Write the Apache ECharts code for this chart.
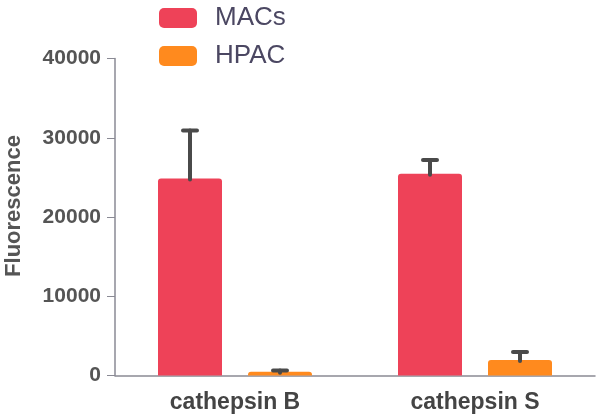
<!DOCTYPE html>
<html>
<head>
<meta charset="utf-8">
<script src="https://cdn.jsdelivr.net/npm/echarts@6/dist/echarts.min.js"></script>
<style>html,body{margin:0;padding:0;background:#fff;}#c{width:602px;height:420px;}</style>
</head>
<body>
<div id="c"></div>
<script>
var categories = ['cathepsin B', 'cathepsin S'];
var seriesNames = ['MACs', 'HPAC'];
var macsMean = [24850, 25450];
var macsErr = [6050, 1750];
var hpacMean = [480, 1950];
var hpacErr = [150, 1000];
var yTicks = [0, 10000, 20000, 30000, 40000];

var colors = ['#ee4258', '#ff8a1e'];
var barWidth = 64, barGapPx = 26;
var offset = (barWidth + barGapPx) / 2;

function errData(mean, err) {
  return mean.map(function (m, i) { return [i, m, err[i]]; });
}
function errRender(dx) {
  return function (params, api) {
    var base = api.coord([api.value(0), api.value(1)]);
    var top = api.coord([api.value(0), api.value(1) + api.value(2)]);
    var x = base[0] + dx;
    var style = { stroke: '#4a4a4a', lineWidth: 4, lineCap: 'round' };
    return {
      type: 'group',
      children: [
        { type: 'line', shape: { x1: x, y1: base[1] + 1, x2: x, y2: top[1] }, style: style },
        { type: 'line', shape: { x1: x - 7, y1: top[1], x2: x + 7, y2: top[1] }, style: style }
      ]
    };
  };
}

var chart = echarts.init(document.getElementById('c'), null, { renderer: 'canvas' });
chart.setOption({
  animation: false,
  backgroundColor: '#fff',
  legend: {
    orient: 'vertical',
    left: 159, top: 5, padding: 0,
    itemWidth: 38, itemHeight: 20, itemGap: 12,
    icon: 'roundRect',
    data: seriesNames,
    textStyle: { fontFamily: 'Liberation Sans', fontSize: 26, color: '#4b4762', lineHeight: 24, padding: [0, 0, 0, 13] }
  },
  grid: { left: 115, right: 7, top: 58.5, bottom: 44.5, containLabel: false, outerBoundsMode: 'none' },
  xAxis: {
    type: 'category',
    data: categories,
    axisLine: { lineStyle: { color: '#8a8a94', width: 1.5 } },
    axisTick: { alignWithLabel: true, length: 8, lineStyle: { color: '#555', width: 1 } },
    axisLabel: { fontFamily: 'Liberation Sans', fontWeight: 'bold', fontSize: 23, color: '#444', margin: 16 }
  },
  yAxis: {
    type: 'value',
    min: 0, max: 40000, interval: 10000,
    name: 'Fluorescence',
    nameLocation: 'middle',
    nameGap: 90,
    nameTextStyle: { fontFamily: 'Liberation Sans', fontWeight: 'bold', fontSize: 22, color: '#555', padding: [0, 0, 0, 22] },
    axisLine: { show: true, lineStyle: { color: '#8a8a94', width: 1.5 } },
    axisTick: { show: true, length: 8, lineStyle: { color: '#8a8a94', width: 1 } },
    splitLine: { show: false },
    axisLabel: {
      fontFamily: 'Liberation Sans', fontWeight: 'bold', fontSize: 21, color: '#555', margin: 14,
      formatter: function (v) { return yTicks.indexOf(v) >= 0 ? String(v) : ''; }
    }
  },
  series: [
    { name: seriesNames[0], type: 'bar', data: macsMean, barWidth: barWidth, barGap: (barGapPx / barWidth * 100) + '%',
      itemStyle: { color: colors[0], borderRadius: [3, 3, 0, 0] } },
    { name: seriesNames[1], type: 'bar', data: hpacMean, barWidth: barWidth,
      itemStyle: { color: colors[1], borderRadius: [3, 3, 0, 0] } },
    { type: 'custom', name: 'errMACs', data: errData(macsMean, macsErr), renderItem: errRender(-offset), z: 5 },
    { type: 'custom', name: 'errHPAC', data: errData(hpacMean, hpacErr), renderItem: errRender(offset), z: 5 }
  ]
});
</script>
</body>
</html>
